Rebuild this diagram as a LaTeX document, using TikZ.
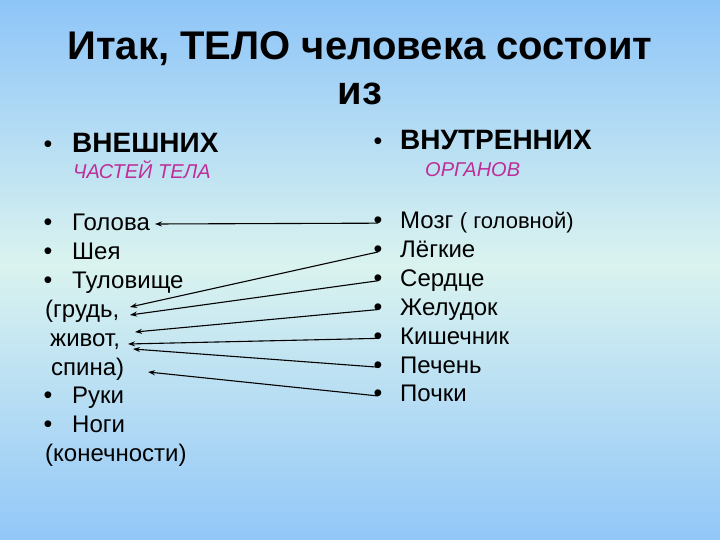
\documentclass[tikz,border=0pt]{standalone}
\usepackage{fontspec}
\setmainfont{Liberation Sans}
\usepackage{tikz}
\usetikzlibrary{arrows.meta,positioning}
\definecolor{skytop}{HTML}{8EC5F8}
\definecolor{mint}{HTML}{DAF3EF}
\definecolor{skybot}{HTML}{92C7F8}
\definecolor{plum}{HTML}{BE2E98}
\tikzset{titletext/.style={font=\fontsize{40}{44}\selectfont\bfseries,anchor=base,inner sep=0pt},headtext/.style={font=\fontsize{28}{30}\selectfont\bfseries,anchor=base west,inner sep=0pt},subtext/.style={font=\fontsize{20}{22}\selectfont\itshape,text=plum,anchor=base west,inner sep=0pt},itemtext/.style={font=\fontsize{24}{26}\selectfont,anchor=base west,inner sep=0pt},dotmark/.style={font=\fontsize{25}{27}\selectfont,anchor=base,inner sep=0pt},linkline/.style={line width=1.1pt,-{Stealth[length=7pt,width=5pt]}}}

\begin{document}
\begin{tikzpicture}[x=1pt,y=-1pt]
\useasboundingbox (0,0) rectangle (720,540);
\begin{scope}[y=1pt]
\shade[top color=skytop,bottom color=mint] (0,0) rectangle (720,-265);
\shade[top color=mint,bottom color=skybot] (0,-265) rectangle (720,-540);
\end{scope}
% heading
\node[titletext] (title) at (360,60) {Итак, ТЕЛО человека состоит};
\node[titletext] (iz) at (360,105) {из};
\node[dotmark] (hl) at (48,153) {•};
\node[headtext] (outer) at (72,153) {ВНЕШНИХ};
\node[subtext] (parts) at (73,179) {ЧАСТЕЙ ТЕЛА};
\node[dotmark] (hr) at (378,150) {•};
\node[headtext] (inner) at (400,150) {ВНУТРЕННИХ};
\node[subtext] (organs) at (425,177) {ОРГАНОВ};
% outer parts
\node[dotmark] (ld1) at (48,230) {•};
\node[itemtext] (golova) at (72,230) {Голова};
\node[dotmark] (ld2) at (48,259) {•};
\node[itemtext] (sheya) at (72,259) {Шея};
\node[dotmark] (ld3) at (48,288) {•};
\node[itemtext] (tulov) at (72,288) {Туловище};
\node[itemtext] (grud) at (45,317) {(грудь,};
\node[itemtext] (zhivot) at (50,346) {живот,};
\node[itemtext] (spina) at (51,375) {спина)};
\node[dotmark] (ld4) at (48,403) {•};
\node[itemtext] (ruki) at (72,403) {Руки};
\node[dotmark] (ld5) at (48,432) {•};
\node[itemtext] (nogi) at (72,432) {Ноги};
\node[itemtext] (konech) at (45,461) {(конечности)};
% inner organs
\foreach \t [count=\i] in {Мозг {\fontsize{22}{24}\selectfont( головной)},Лёгкие,Сердце,Желудок,Кишечник,Печень,Почки} {
  \node[dotmark] (rd\i) at (378,{229+28.8*(\i-1)}) {•};
  \node[itemtext] (rt\i) at (400,{229+28.8*(\i-1)}) {\t};
}
% arrow tips
\coordinate (tip1) at (155,224);
\coordinate (tip2) at (130,307);
\coordinate (tip3) at (130,315);
\coordinate (tip4) at (135,332);
\coordinate (tip5) at (128,344);
\coordinate (tip6) at (133,349);
\coordinate (tip7) at (148,372);
\foreach \i in {1,...,7}
  \draw[linkline] (rd\i.center) -- (tip\i);
\end{tikzpicture}
\end{document}
